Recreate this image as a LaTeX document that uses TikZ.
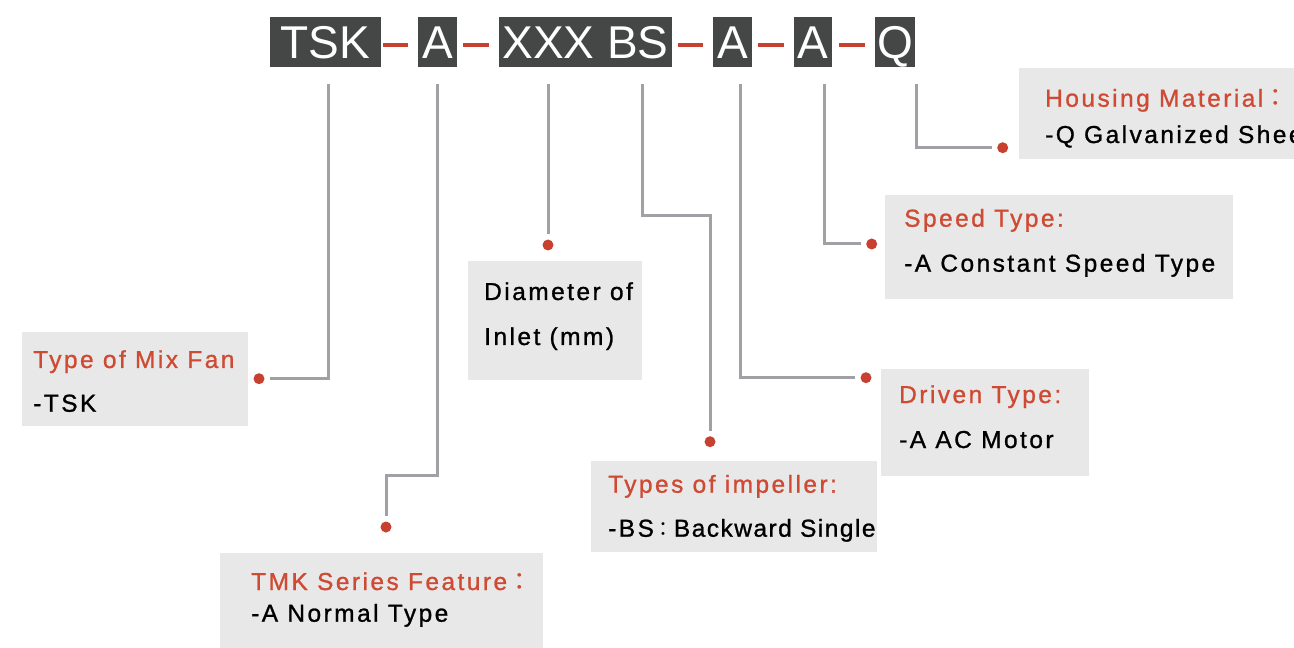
\documentclass[tikz,border=0pt]{standalone}
\usepackage{fontspec}
\setmainfont{Liberation Sans}
\newfontfamily\lblfont[LetterSpace=10,FakeBold=1]{Liberation Sans}
\newfontfamily\tightfont[LetterSpace=6,FakeBold=1]{Liberation Sans}
\newfontfamily\codefont{Liberation Sans}
\newfontfamily\cjk{Noto Sans CJK TC}
\definecolor{codebg}{HTML}{454746}
\definecolor{boxbg}{HTML}{E8E8E8}
\definecolor{ttl}{HTML}{CF4A33}
\definecolor{dotc}{HTML}{C8402F}
\definecolor{ln}{HTML}{A0A1A4}
\begin{document}
\begin{tikzpicture}[x=1bp,y=-1bp,
  codebox/.style={fill=codebg,text=white,inner sep=0pt,minimum height=50bp,
    text height=33bp,text depth=0pt,font=\codefont\fontsize{46bp}{50bp}\selectfont},
  sepdash/.style={draw=dotc,line width=4.5bp},
  infobox/.style={fill=boxbg,inner sep=0pt,anchor=north west,draw=none},
  ttltext/.style={text=ttl,anchor=base west,inner sep=0pt,
    font=\lblfont\fontsize{24.5bp}{28bp}\selectfont},
  bodytext/.style={text=black,anchor=base west,inner sep=0pt,
    font=\lblfont\fontsize{24.5bp}{28bp}\selectfont},
  reddot/.style={circle,fill=dotc,minimum size=11bp,inner sep=0pt},
  conn/.style={draw=ln,line width=3bp,shorten >=5.5bp}
]
\useasboundingbox (0,0) rectangle (1294,648);
\clip (0,0) rectangle (1294,648);

% code boxes
\node[codebox,minimum width=111bp] (tsk) at (325.5,42) {TSK};
\node[codebox,minimum width=39bp]  (a1)  at (437.5,42) {A};
\node[codebox,minimum width=173bp] (xbs) at (585.5,42) {XXX BS};
\node[codebox,minimum width=39bp]  (a2)  at (732.5,42) {A};
\node[codebox,minimum width=38bp]  (a3)  at (813,42) {A};
\node[codebox,minimum width=40bp]  (q)   at (895,42) {Q};

\draw[sepdash] ([xshift=2bp,yshift=-3bp]tsk.east) -- ([xshift=-10bp,yshift=-3bp]a1.west);
\draw[sepdash] ([xshift=6bp,yshift=-3bp]a1.east) -- ([xshift=-10bp,yshift=-3bp]xbs.west);
\draw[sepdash] ([xshift=6bp,yshift=-3bp]xbs.east) -- ([xshift=-10bp,yshift=-3bp]a2.west);
\draw[sepdash] ([xshift=6bp,yshift=-3bp]a2.east) -- ([xshift=-10bp,yshift=-3bp]a3.west);
\draw[sepdash] ([xshift=7bp,yshift=-3bp]a3.east) -- ([xshift=-10bp,yshift=-3bp]q.west);

% info boxes
\node[infobox,minimum width=290bp,minimum height=91bp] (hbox) at (1019,68) {};
\node[infobox,minimum width=348bp,minimum height=104bp] (sbox) at (885,195) {};
\node[infobox,minimum width=208bp,minimum height=107bp] (dbox) at (881,369) {};
\node[infobox,minimum width=286bp,minimum height=91bp] (ibox) at (591,461) {};
\node[infobox,minimum width=174bp,minimum height=119bp] (mbox) at (468,261) {};
\node[infobox,minimum width=226bp,minimum height=94bp] (fbox) at (22,332) {};
\node[infobox,minimum width=323bp,minimum height=95bp] (tbox) at (219.5,553) {};

% texts
\node[ttltext] (ht) at (1045,106.7) {Housing Material{\cjk ：}};
\node[bodytext] (hb) at (1045,143) {-Q Galvanized Sheet};
\node[ttltext] (st) at (904,226.7) {Speed Type:};
\node[bodytext] (sb) at (904,271.7) {-A Constant Speed Type};
\node[ttltext] (dt) at (899,403) {Driven Type:};
\node[bodytext] (db) at (899,448) {-A AC Motor};
\node[ttltext] (it) at (608,492.7) {Types of impeller:};
\node[bodytext] (ib) at (608,536.7) {-BS{\cjk\fontsize{20bp}{24bp}\selectfont ：}{\tightfont Backward Single}};
\node[bodytext] (m1) at (484,300) {Diameter of};
\node[bodytext] (m2) at (484,345) {Inlet (mm)};
\node[ttltext] (ft) at (33,368) {Type of Mix Fan};
\node[bodytext] (fb) at (33,411.7) {-TSK};
\node[ttltext] (tt) at (251,590) {TMK Series Feature{\cjk ：}};
\node[bodytext] (tb) at (251,621.7) {-A Normal Type};

% connector starts
\coordinate (sT) at (328,84);
\coordinate (sA1) at (437.7,84);
\coordinate (sX) at (548,84);
\coordinate (sBS) at (642,84);
\coordinate (sA2) at (740,84);
\coordinate (sA3) at (824,84);
\coordinate (sQ) at (916.7,84);

% dots
\node[reddot] (dT) at (259,378.7) {};
\node[reddot] (dA1) at (386,527) {};
\node[reddot] (dX) at (548,245) {};
\node[reddot] (dBS) at (710,441.7) {};
\node[reddot] (dA2) at (866,377.7) {};
\node[reddot] (dA3) at (871.7,244) {};
\node[reddot] (dQ) at (1002.7,147.7) {};

% connectors
\draw[conn] (sT) |- (dT);
\draw[conn] (sA1) -- ++(0,391) -| (dA1);
\draw[conn] (sX) -- (dX);
\draw[conn] (sBS) -- ++(0,132) -| (dBS);
\draw[conn] (sA2) |- (dA2);
\draw[conn] (sA3) |- (dA3);
\draw[conn] (sQ) |- (dQ);
\end{tikzpicture}
\end{document}
